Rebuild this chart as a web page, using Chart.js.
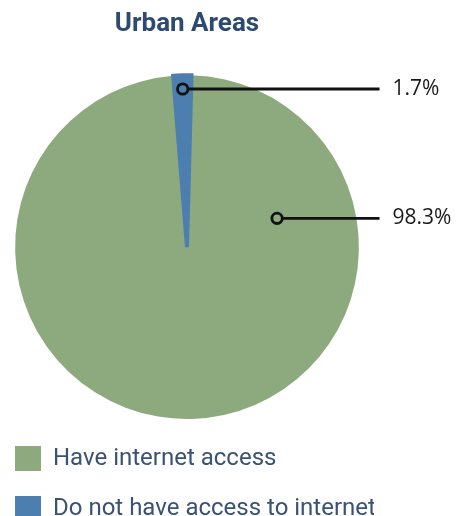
<!DOCTYPE html>
<html>
<head>
<meta charset="utf-8">
<script src="https://cdn.jsdelivr.net/npm/chart.js@4"></script>
<style>
  html, body { margin: 0; padding: 0; background: #fff; overflow: hidden; }
  #wrap { width: 459px; height: 516px; }
</style>
</head>
<body>
<div id="wrap"><canvas id="urbanChart"></canvas></div>
<script>
// data
const categories = ['Have internet access', 'Do not have access to internet'];
const shares = [98.3, 1.7];
const valueLabels = ['98.3%', '1.7%'];

// styles
const sliceColors = ['#8CAA7E', '#4C7EAF'];
const anchorAngleFrac = [0.2, 0.5];   // where along the slice the callout dot sits
const anchorRadiusFrac = [0.55, 0.92];

const calloutPlugin = {
  id: 'callouts',
  afterDatasetsDraw(chart) {
    const ctx = chart.ctx;
    const meta = chart.getDatasetMeta(0);
    meta.data.forEach((arc, i) => {
      const a = arc.startAngle + (arc.endAngle - arc.startAngle) * anchorAngleFrac[i];
      const r = arc.outerRadius * anchorRadiusFrac[i];
      const px = arc.x + Math.cos(a) * r;
      const py = arc.y + Math.sin(a) * r;
      const lineEnd = arc.x + arc.outerRadius * 1.12;
      ctx.save();
      ctx.strokeStyle = '#111';
      ctx.lineWidth = 2.8;
      ctx.beginPath();
      ctx.moveTo(px, py);
      ctx.lineTo(lineEnd, py);
      ctx.stroke();
      ctx.beginPath();
      ctx.arc(px, py, 5.2, 0, Math.PI * 2);
      ctx.fillStyle = sliceColors[i];
      ctx.fill();
      ctx.stroke();
      ctx.fillStyle = '#1a1a1a';
      ctx.font = '21px "Open Sans"';
      ctx.textBaseline = 'middle';
      ctx.textAlign = 'left';
      ctx.fillText(valueLabels[i], lineEnd + 13, py);
      ctx.restore();
    });
  }
};

new Chart(document.getElementById('urbanChart'), {
  type: 'pie',
  data: {
    labels: categories,
    datasets: [{
      data: shares,
      backgroundColor: sliceColors,
      borderColor: sliceColors,
      borderWidth: [0, 4],
      borderJoinStyle: 'miter'
    }]
  },
  options: {
    responsive: true,
    maintainAspectRatio: false,
    animation: false,
    rotation: 1.5,
    layout: { padding: { left: -10, right: 85, top: 0, bottom: -15 } },
    plugins: {
      title: {
        display: true,
        fullSize: false,
        text: 'Urban Areas',
        color: '#2E4A70',
        font: { family: 'Roboto', size: 26, weight: 'bold' },
        padding: { top: 9, bottom: 33 }
      },
      legend: {
        position: 'bottom',
        align: 'start',
        labels: {
          boxWidth: 26,
          boxHeight: 25,
          padding: 25,
          color: '#3A5273',
          font: { family: 'Roboto', size: 24 },
          generateLabels(chart) {
            const items = Chart.controllers.pie.overrides.plugins.legend.labels.generateLabels(chart);
            items.forEach(it => { it.lineWidth = 0; });
            return items;
          }
        }
      },
      tooltip: { enabled: false }
    }
  },
  plugins: [calloutPlugin]
});
</script>
</body>
</html>
